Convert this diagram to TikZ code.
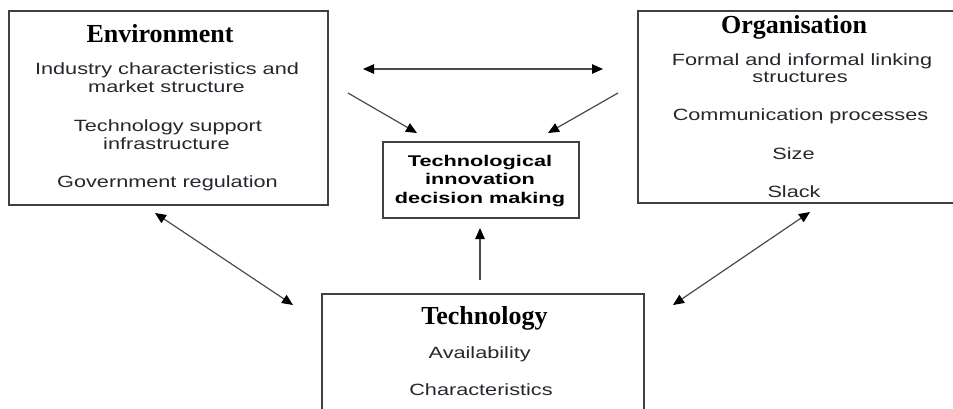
\documentclass[tikz,border=0pt]{standalone}
\usepackage{fontspec}
\usetikzlibrary{arrows.meta}
% Body text is a horizontally widened sans; headings are a bold serif
\newfontfamily\bodyfont[FakeStretch=1.33]{Liberation Sans}
\newfontfamily\corefont[FakeStretch=1.4]{Liberation Sans}
\newfontfamily\headfont{Liberation Serif}
\definecolor{boxline}{HTML}{404040}
\definecolor{bodytext}{HTML}{26262E}
\definecolor{arrowline}{HTML}{4A4A4A}

\begin{document}
\begin{tikzpicture}[x=1bp,y=-1bp,
  panel/.style={draw=boxline,line width=1.6bp,rectangle,anchor=north west,inner sep=0},
  head/.style={anchor=base,inner sep=0,text=black,
    font=\headfont\bfseries\fontsize{26bp}{30bp}\selectfont},
  item/.style={anchor=base,inner sep=0,text=bodytext,
    font=\bodyfont\fontsize{16.3bp}{19bp}\selectfont},
  core/.style={anchor=base,inner sep=0,text=black,
    font=\corefont\bfseries\fontsize{15.5bp}{18bp}\selectfont},
  tip/.tip={Triangle[length=11bp,width=9.5bp,color=black]},
  link/.style={draw=arrowline,line width=1.2bp,-tip},
  twoway/.style={draw=arrowline,line width=1.2bp,tip-tip}
]
\clip (0,0) rectangle (953,408);
\fill[white] (0,0) rectangle (953,408);

% Boxes
\node[panel,minimum width=319bp,minimum height=194bp] (env) at (8,10) {};
\node[panel,minimum width=320bp,minimum height=192bp] (org) at (637,10) {};
\node[panel,minimum width=196bp,minimum height=76bp] (core) at (382,141) {};
\node[panel,minimum width=322bp,minimum height=130bp] (tech) at (321,293) {};

% Environment
\node[head] (envT) at (160,42) {Environment};
\node[item] (env1) at (167,74) {Industry characteristics and};
\node[item] (env2) at (166.5,92.7) {market structure};
\node[item] (env3) at (168,131) {Technology support};
\node[item] (env4) at (166.5,149.3) {infrastructure};
\node[item] (env5) at (167.5,187.7) {Government regulation};

% Organisation
\node[head] (orgT) at (794,33) {Organisation};
\node[item] (org1) at (802,65) {Formal and informal linking};
\node[item] (org2) at (800,82.5) {structures};
\node[item] (org3) at (800.5,120.5) {Communication processes};
\node[item] (org4) at (793.5,159.5) {Size};
\node[item] (org5) at (794,197.5) {Slack};

% Decision making
\node[core] (core1) at (480,166) {Technological};
\node[core] (core2) at (480,184) {innovation};
\node[core] (core3) at (480,203) {decision making};

% Technology
\node[head] (techT) at (484.5,324) {Technology};
\node[item] (tech1) at (479.7,358.5) {Availability};
\node[item] (tech2) at (481,395.5) {Characteristics};

% Connector end points
\coordinate (eo1) at (363,69);
\coordinate (eo2) at (603,69);
\coordinate (ec1) at (348,93);
\coordinate (ec2) at (417,133);
\coordinate (oc1) at (618,93);
\coordinate (oc2) at (548,133);
\coordinate (tc1) at (480,280);
\coordinate (tc2) at (480,228);
\coordinate (et1) at (155,213);
\coordinate (et2) at (293,305);
\coordinate (ot1) at (810,212);
\coordinate (ot2) at (673,305);

% Connectors
\draw[twoway] (eo1) -- (eo2);
\draw[link] (ec1) -- (ec2);
\draw[link] (oc1) -- (oc2);
\draw[link] (tc1) -- (tc2);
\draw[twoway] (et1) -- (et2);
\draw[twoway] (ot1) -- (ot2);
\end{tikzpicture}
\end{document}
